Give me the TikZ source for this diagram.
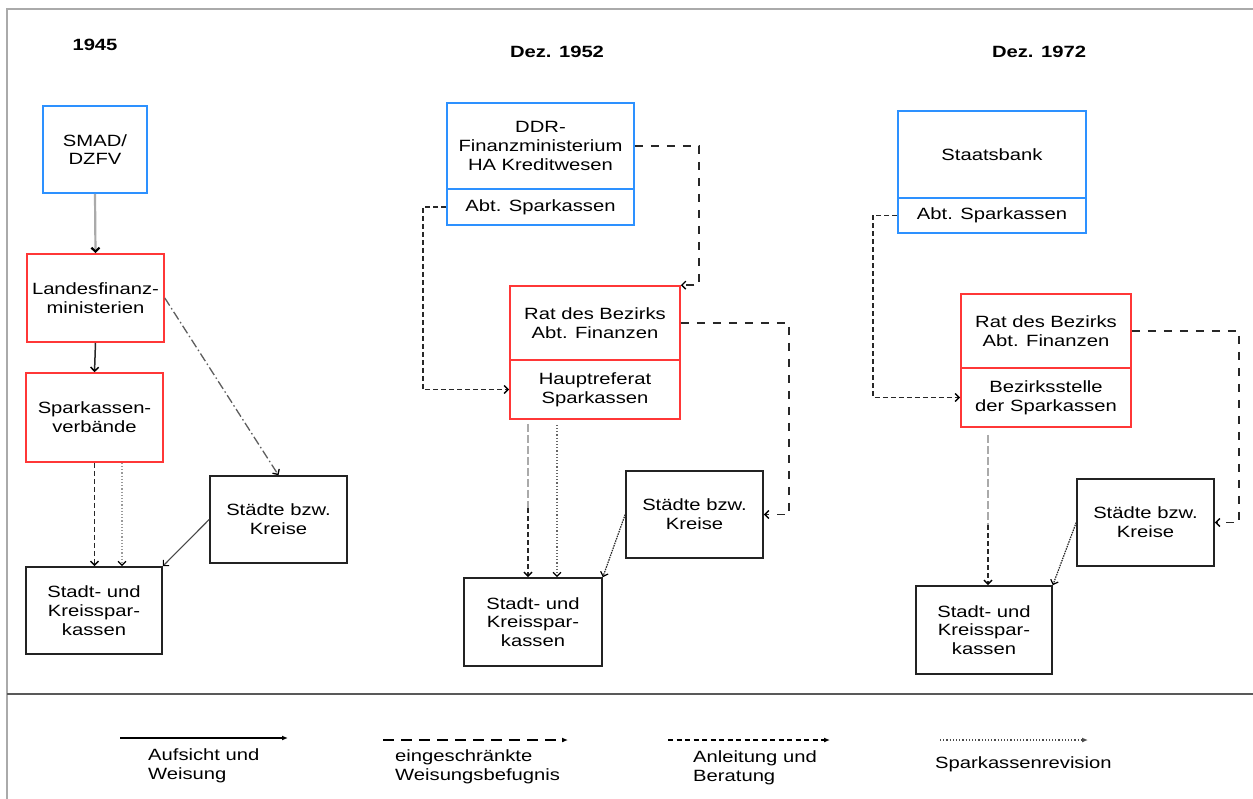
\documentclass[tikz,border=0pt]{standalone}
\usepackage{fontspec}
\setmainfont{Liberation Sans}[FakeStretch=1.24]
\usetikzlibrary{arrows.meta,calc}
\definecolor{bxblue}{RGB}{45,145,255}
\definecolor{bxred}{RGB}{255,55,55}
\definecolor{bxblack}{RGB}{35,35,35}
\definecolor{framegray}{RGB}{170,170,170}
\definecolor{lnk}{RGB}{40,40,40}
\tikzset{
  txt/.style={font=\fontsize{16.3}{18.7}\selectfont},
  box/.style={txt, draw, line width=1.6pt, inner sep=0pt, align=center},
  bluebox/.style={box, draw=bxblue},
  redbox/.style={box, draw=bxred},
  blackbox/.style={box, draw=bxblack},
  title/.style={font=\fontsize{16.3}{18.7}\selectfont\bfseries, inner sep=0pt, anchor=base},
  legtxt/.style={txt, inner sep=0pt, align=left, anchor=base west},
  barb/.style={-{Straight Barb[length=4pt,width=8pt,color=black]}},
  longdash/.style={lnk, line width=1.4pt, dash pattern=on 8pt off 8pt, barb},
  shortdash/.style={lnk, line width=1.4pt, dash pattern=on 5pt off 3pt, barb},
  dashdot/.style={lnk!75, line width=1.3pt, dash pattern=on 9pt off 3pt on 1.5pt off 3pt, barb},
  dotline/.style={line width=1.3pt, dash pattern=on 1.2pt off 2pt, barb},
  thinline/.style={lnk!85, line width=1.1pt, barb},
  grayover/.style={framegray, line width=2.6pt, dash pattern=on 8pt off 3pt},
  legtip/.style={-{Latex[length=6pt,width=5pt]}},
}
\begin{document}
\begin{tikzpicture}[x=1pt, y=-1pt]
\useasboundingbox (0,0) rectangle (1253,799);
\fill[white] (0,0) rectangle (1253,799);

% frame
\coordinate (ftl) at (7,9);
\coordinate (ftr) at (1253,9);
\coordinate (fbl) at (7,799);
\coordinate (sepl) at (7,694);
\coordinate (sepr) at (1253,694);
\draw[framegray, line width=2pt] (ftr) -- (ftl) -- (fbl);
\draw[black!65, line width=1.6pt] (sepl) -- (sepr);

% titles
\node[title] (t1) at (95,51) {1945};
\node[title] (t2) at (557,58) {Dez. 1952};
\node[title] (t3) at (1039,58) {Dez. 1972};

% ---------- column 1945 ----------
\node[bluebox, minimum width=104pt, minimum height=87pt] (smad) at (95,149.5) {SMAD/\\DZFV};
\node[redbox, minimum width=137pt, minimum height=88pt] (landes) at (95.5,298) {Landesfinanz-\\ministerien};
\node[redbox, minimum width=137pt, minimum height=89pt] (verb) at (94.5,417.5) {Sparkassen-\\verbände};
\node[blackbox, minimum width=136pt, minimum height=87pt] (stadt1) at (94,610.5) {Stadt- und\\Kreisspar-\\kassen};
\node[blackbox, minimum width=137pt, minimum height=87pt] (staedte1) at (278.5,519.5) {Städte bzw.\\Kreise};

\draw[framegray, line width=2.2pt, barb] (smad.south) -- (landes.north);
\draw[lnk, line width=1.5pt, barb] (landes.south) -- (verb.north);
\draw[lnk, line width=1.5pt, dash pattern=on 5pt off 3pt, barb] (verb.south) -- (stadt1.north -| verb.south);
\coordinate (c1dot) at (122,0);
\draw[dotline, black!40] (verb.south -| c1dot) -- (stadt1.north -| c1dot);
\draw[dashdot] (landes.east) -- (staedte1.north);
\draw[thinline] (staedte1.west) -- (stadt1.north east);

% ---------- column 1952 ----------
\node[bluebox, minimum width=187pt, minimum height=86pt] (ddrA) at (540.5,146) {DDR-\\Finanzministerium\\HA Kreditwesen};
\node[bluebox, minimum width=187pt, minimum height=36pt] (ddrB) at (540.5,207) {Abt. Sparkassen};
\node[redbox, minimum width=170pt, minimum height=74pt] (ratA) at (595,323) {Rat des Bezirks\\Abt. Finanzen};
\node[redbox, minimum width=170pt, minimum height=59pt] (ratB) at (595,389.5) {Hauptreferat\\Sparkassen};
\node[blackbox, minimum width=137pt, minimum height=87pt] (staedte2) at (694.5,514.5) {Städte bzw.\\Kreise};
\node[blackbox, minimum width=138pt, minimum height=88pt] (stadt2) at (533,622) {Stadt- und\\Kreisspar-\\kassen};

\coordinate (c2r) at (699,0);
\coordinate (c2l) at (423,0);
\coordinate (c2rr) at (789,0);
\draw[longdash] (ddrA.east) -- (ddrA.east -| c2r) -- (ratA.north east -| c2r) -- (ratA.north east);
\draw[shortdash] (ddrB.west) -- (ddrB.west -| c2l) -- (ratB.west -| c2l) -- (ratB.west);
\draw[longdash] (ratA.east) -- (ratA.east -| c2rr) -- (staedte2.east -| c2rr) -- (staedte2.east);
\coordinate (c2v) at (528,0);
\coordinate (c2g) at (528,508);
\draw[grayover] ($(ratB.south -| c2v)+(0,4)$) -- (c2g);
\draw[lnk, line width=1.5pt, dash pattern=on 5pt off 3pt, barb] (c2g) -- (stadt2.north -| c2v);
\coordinate (c2d) at (557,0);
\draw[dotline, black!60] ($(ratB.south -| c2d)+(0,5)$) -- (stadt2.north -| c2d);
\draw[lnk, line width=1.2pt, dash pattern=on 1.5pt off 1pt, barb] (staedte2.west) -- (stadt2.north east);

% ---------- column 1972 ----------
\node[bluebox, minimum width=188pt, minimum height=87pt] (sbA) at (992,154.5) {Staatsbank};
\node[bluebox, minimum width=188pt, minimum height=35pt] (sbB) at (992,215.5) {Abt. Sparkassen};
\node[redbox, minimum width=170pt, minimum height=74pt] (rat3A) at (1046,331) {Rat des Bezirks\\Abt. Finanzen};
\node[redbox, minimum width=170pt, minimum height=59pt] (rat3B) at (1046,397.5) {Bezirksstelle\\der Sparkassen};
\node[blackbox, minimum width=137pt, minimum height=87pt] (staedte3) at (1145.5,522.5) {Städte bzw.\\Kreise};
\node[blackbox, minimum width=136pt, minimum height=88pt] (stadt3) at (984,630) {Stadt- und\\Kreisspar-\\kassen};

\coordinate (c3l) at (873,0);
\coordinate (c3rr) at (1239,0);
\draw[shortdash] (sbB.west) -- (sbB.west -| c3l) -- (rat3B.west -| c3l) -- (rat3B.west);
\draw[longdash] (rat3A.east) -- (rat3A.east -| c3rr) -- (staedte3.east -| c3rr) -- (staedte3.east);
\coordinate (c3v) at (988,0);
\coordinate (c3g) at (988,525);
\draw[grayover] ($(rat3B.south -| c3v)+(0,7)$) -- (c3g);
\draw[lnk, line width=1.5pt, dash pattern=on 5pt off 3pt, barb] (c3g) -- (stadt3.north -| c3v);
\draw[lnk, line width=1.2pt, dash pattern=on 1.5pt off 1pt, barb] (staedte3.west) -- (stadt3.north east);

% ---------- legend ----------
\coordinate (l1a) at (120,738); \coordinate (l1b) at (288,738);
\coordinate (l2a) at (383,740); \coordinate (l2b) at (568,740);
\coordinate (l3a) at (668,740); \coordinate (l3b) at (830,740);
\coordinate (l4a) at (940,740); \coordinate (l4b) at (1088,740);
\draw[black, line width=1.4pt, legtip] (l1a) -- (l1b);
\draw[black, line width=1.4pt, dash pattern=on 11pt off 7pt, legtip] (l2a) -- (l2b);
\draw[black, line width=1.4pt, dash pattern=on 5pt off 3.5pt, legtip] (l3a) -- (l3b);
\draw[black!70, line width=1.2pt, dash pattern=on 1.2pt off 2pt, legtip] (l4a) -- (l4b);
\node[legtxt] (g1) at (148,779) {Aufsicht und\\Weisung};
\node[legtxt] (g2) at (395,780) {eingeschränkte\\Weisungsbefugnis};
\node[legtxt] (g3) at (693,781) {Anleitung und\\Beratung};
\node[legtxt] (g4) at (935,768) {Sparkassenrevision};
\end{tikzpicture}
\end{document}
